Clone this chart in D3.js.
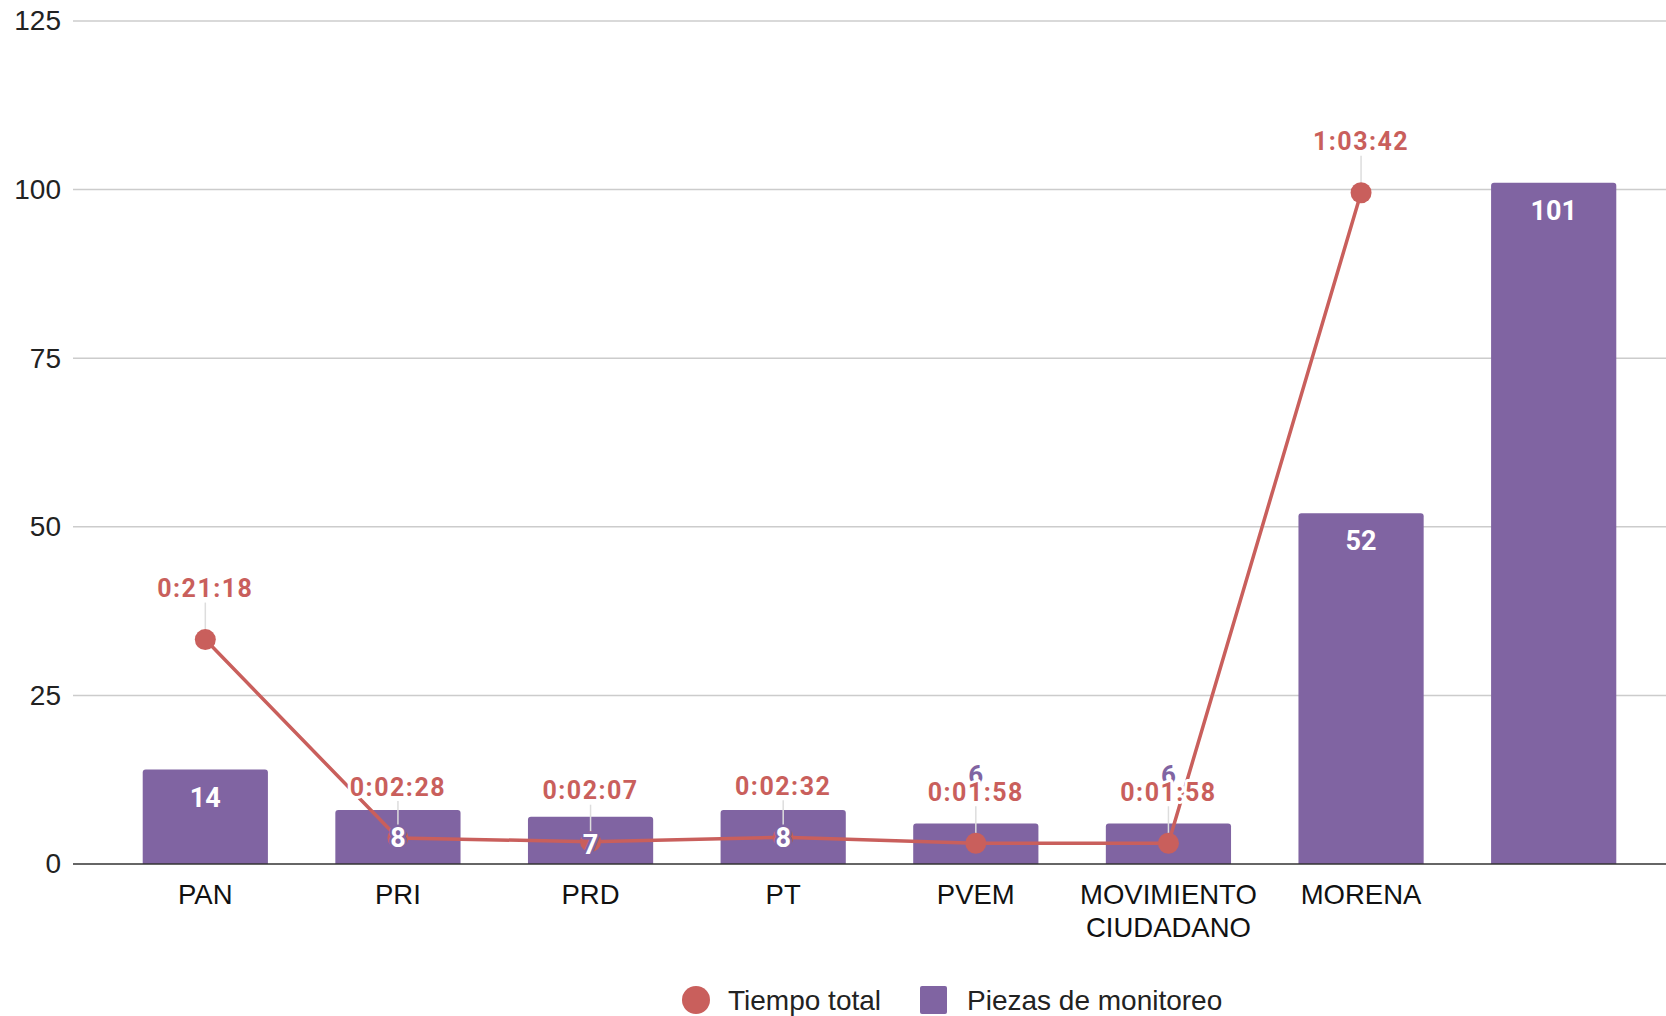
<!DOCTYPE html>
<html><head><meta charset="utf-8">
<script src="https://cdn.jsdelivr.net/npm/d3@7"></script>
<style>
html,body{margin:0;padding:0;background:#fff;}
svg{display:block;}
</style></head>
<body>
<script>
const categories = ["PAN","PRI","PRD","PT","PVEM","MOVIMIENTO CIUDADANO","MORENA",""];
const piezas = [14,8,7,8,6,6,52,101];
const tiempoSegundos = [1278,148,127,152,118,118,3822,null];
const yTicks = [0,25,50,75,100,125];
const seriesNames = ["Tiempo total","Piezas de monitoreo"];

const W = 1666, H = 1016;
const purple = "#8064a2", red = "#c95f5c";
const svg = d3.select("body").append("svg").attr("width", W).attr("height", H);

const x = d3.scaleBand().domain(categories.map((d,i)=>i)).range([109, 1650]).paddingInner(0.35).paddingOuter(0.175);
const y = d3.scaleLinear().domain([0,125]).range([864, 21]);
const y2 = d3.scaleLinear().domain([0,4800]).range([864, 21]);

const fmt = s => { const h=Math.floor(s/3600), m=Math.floor(s%3600/60), ss=s%60; return h+":"+String(m).padStart(2,"0")+":"+String(ss).padStart(2,"0"); };
const axFont = "'Liberation Sans', Arial, sans-serif";

// y axis labels + gridlines
const yAxis = d3.axisLeft(y).tickValues(yTicks).tickSize(0).tickPadding(12);
const gy = svg.append("g").attr("transform","translate(73,0)").call(yAxis);
gy.select(".domain").remove();
gy.selectAll("text").attr("font-family",axFont).attr("font-size",28).attr("fill","#222");
svg.append("g").selectAll("line").data(yTicks.filter(t=>t>0)).join("line")
  .attr("x1",73).attr("x2",W).attr("y1",d=>y(d)).attr("y2",d=>y(d))
  .attr("stroke","#cccccc").attr("stroke-width",1.5);

// bars
const bw = x.bandwidth();
svg.append("g").selectAll("path").data(piezas).join("path")
  .attr("fill", purple)
  .attr("d",(d,i)=>{ const x0=x(i), x1=x0+bw, y0=y(d), yb=y(0), r=3;
    return `M${x0},${yb}V${y0+r}Q${x0},${y0} ${x0+r},${y0}H${x1-r}Q${x1},${y0} ${x1},${y0+r}V${yb}Z`; });

// baseline
svg.append("line").attr("x1",73).attr("x2",W).attr("y1",y(0)).attr("y2",y(0)).attr("stroke","#333").attr("stroke-width",1.5);

const labFont = "Roboto, 'Noto Sans', sans-serif";
const cx = i => x(i)+bw/2;

// outside bar labels (short bars) - drawn under the line labels
svg.append("g").selectAll("text").data(piezas.map((v,i)=>({v,i})).filter(d=>y(0)-y(d.v)<45)).join("text")
  .attr("x",d=>cx(d.i)).attr("y",d=>y(d.v)-49).attr("text-anchor","middle").attr("dominant-baseline","central")
  .attr("font-family",labFont).attr("font-weight",700).attr("font-size",26).attr("fill",purple).text(d=>d.v);

// leader lines
const pts = tiempoSegundos.map((v,i)=>({v,i})).filter(d=>d.v!=null);
svg.append("g").selectAll("line").data(pts).join("line")
  .attr("x1",d=>cx(d.i)).attr("x2",d=>cx(d.i)).attr("y1",d=>y2(d.v)-37).attr("y2",d=>y2(d.v))
  .attr("stroke","#dddddd").attr("stroke-width",1.5);

// line
svg.append("path").datum(pts).attr("fill","none").attr("stroke",red).attr("stroke-width",3.5)
  .attr("d", d3.line().x(d=>cx(d.i)).y(d=>y2(d.v)));
svg.append("g").selectAll("circle").data(pts).join("circle")
  .attr("cx",d=>cx(d.i)).attr("cy",d=>y2(d.v)).attr("r",10.5).attr("fill",red);

// inside bar labels
svg.append("g").selectAll("text").data(piezas.map((v,i)=>({v,i})).filter(d=>y(0)-y(d.v)>=45)).join("text")
  .attr("x",d=>cx(d.i)).attr("y",d=>y(d.v)+28).attr("text-anchor","middle").attr("dominant-baseline","central")
  .attr("font-family",labFont).attr("font-weight",700).attr("font-size",27).attr("fill","#fff")
  .attr("stroke",purple).attr("stroke-width",5).attr("paint-order","stroke").attr("stroke-linejoin","round").text(d=>d.v);

// line labels
svg.append("g").selectAll("text").data(pts).join("text")
  .attr("x",d=>cx(d.i)).attr("y",d=>y2(d.v)-51).attr("text-anchor","middle").attr("dominant-baseline","central")
  .attr("font-family",labFont).attr("font-weight",700).attr("font-size",25).attr("letter-spacing",1.5).attr("fill",red)
  .attr("stroke","#fff").attr("stroke-width",6).attr("paint-order","stroke").attr("stroke-linejoin","round")
  .text(d=>fmt(d.v));

// x axis labels
const xl = svg.append("g").selectAll("text").data(categories.map((c,i)=>({c,i}))).join("text")
  .attr("x",d=>cx(d.i)).attr("y",894).attr("text-anchor","middle").attr("dominant-baseline","central")
  .attr("font-family",axFont).attr("font-size",27.5).attr("fill","#111");
xl.each(function(d){ const words=d.c.split(" "); const t=d3.select(this);
  words.forEach((w,k)=>t.append("tspan").attr("x",cx(d.i)).attr("dy",k===0?0:33).text(w)); });

// legend
const lg = svg.append("g").attr("font-family",axFont).attr("font-size",28).attr("fill","#222");
lg.append("circle").attr("cx",696).attr("cy",1000).attr("r",14).attr("fill",red);
lg.append("text").attr("x",728).attr("y",1000).attr("dominant-baseline","central").text(seriesNames[0]);
lg.append("rect").attr("x",920).attr("y",986).attr("width",27).attr("height",28).attr("rx",2).attr("fill",purple);
lg.append("text").attr("x",967).attr("y",1000).attr("dominant-baseline","central").text(seriesNames[1]);
</script>
</body></html>
